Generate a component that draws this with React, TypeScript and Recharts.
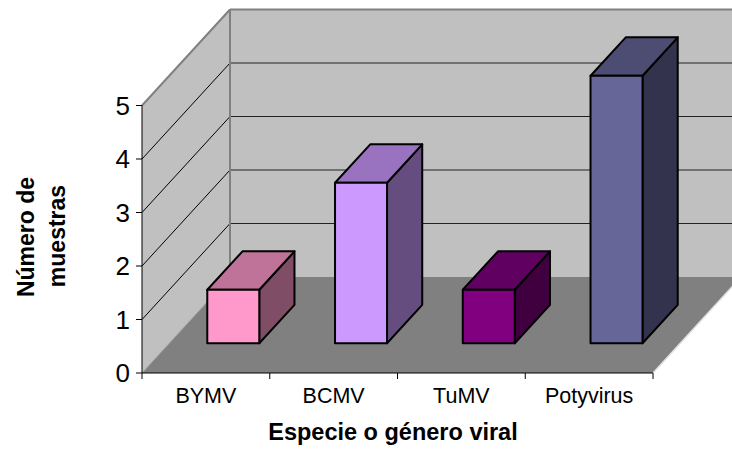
import React from 'react';
import { BarChart, Bar, XAxis, YAxis, ReferenceArea, Label } from 'recharts';

// ── Data ──────────────────────────────────────────────────────────────────────
const categories = ['BYMV', 'BCMV', 'TuMV', 'Potyvirus'];
const sampleCounts = [1, 3, 1, 5];
const yTicks = [0, 1, 2, 3, 4, 5];

const data = categories.map((name, i) => ({ name, muestras: sampleCounts[i] }));

// ── Style ─────────────────────────────────────────────────────────────────────
const FRONT = ['#ff99cc', '#cc99ff', '#800080', '#666699'];
const TOP = ['#bf7399', '#9973bf', '#600060', '#4d4d73'];
const SIDE = ['#804d66', '#664d80', '#400040', '#33334d'];

const DEPTH_X = 88; // 3D depth of the plot box
const DEPTH_Y = 96;
const FONT = 'Arial, "Liberation Sans", sans-serif';

// ── Walls + floor of the 3D box, drawn from the plot rectangle ────────────────
const Walls = ({ x, y, width, height }: any) => {
  const bottom = y + height;
  const right = x + width;
  const bx = x + DEPTH_X;
  const brx = right + DEPTH_X;
  const top = y - DEPTH_Y;
  const fb = bottom - DEPTH_Y;
  const maxV = yTicks[yTicks.length - 1];
  const at = (v: number) => bottom - (height * v) / maxV;
  const n = categories.length;

  return (
    <g>
      <polygon points={`${bx},${fb} ${brx},${fb} ${brx},${top} ${bx},${top}`} fill="#c0c0c0" />
      <polygon points={`${x},${bottom} ${bx},${fb} ${bx},${top} ${x},${y}`} fill="#c0c0c0" />
      <polygon points={`${x},${bottom} ${right},${bottom} ${brx},${fb} ${bx},${fb}`} fill="#808080" />

      {yTicks.slice(1, -1).map((v) => (
        <g key={v}>
          <line x1={x} y1={at(v)} x2={bx} y2={at(v) - DEPTH_Y} stroke="#000" strokeWidth={1} />
          <line x1={bx} y1={at(v) - DEPTH_Y} x2={brx} y2={at(v) - DEPTH_Y} stroke="#222" strokeWidth={1} />
        </g>
      ))}

      {/* box edges */}
      <line x1={x} y1={y} x2={bx} y2={top} stroke="#808080" strokeWidth={2} />
      <line x1={bx} y1={top} x2={brx} y2={top} stroke="#808080" strokeWidth={2} />
      <line x1={bx} y1={top} x2={bx} y2={fb} stroke="#808080" strokeWidth={2} />
      <line x1={x} y1={bottom} x2={bx} y2={fb} stroke="#a0a0a0" strokeWidth={1} />
      <line x1={right} y1={bottom} x2={brx} y2={fb} stroke="#e0e0e0" strokeWidth={1.5} />

      {/* category boundary ticks */}
      {Array.from({ length: n + 1 }, (_, i) => (
        <line
          key={i}
          x1={x + (width * i) / n}
          y1={bottom}
          x2={x + (width * i) / n}
          y2={bottom + 6}
          stroke="#000"
        />
      ))}
    </g>
  );
};

// ── 3D prism bar ──────────────────────────────────────────────────────────────
const Bar3D = ({ x, y, width, height, index }: any) => {
  const x0 = x + 0.31 * DEPTH_X;
  const y0 = y - 0.31 * DEPTH_Y;
  const dx = 0.4 * DEPTH_X;
  const dy = 0.4 * DEPTH_Y;
  const x1 = x0 + width;
  const y1 = y0 + height;
  return (
    <g stroke="#000" strokeWidth={2} strokeLinejoin="round">
      <polygon points={`${x1},${y0} ${x1 + dx},${y0 - dy} ${x1 + dx},${y1 - dy} ${x1},${y1}`} fill={SIDE[index]} />
      <polygon points={`${x0},${y0} ${x0 + dx},${y0 - dy} ${x1 + dx},${y0 - dy} ${x1},${y0}`} fill={TOP[index]} />
      <rect x={x0} y={y0} width={width} height={height} fill={FRONT[index]} />
    </g>
  );
};

const XTitle = () => (
  <text x={393} y={440} textAnchor="middle" fontFamily={FONT} fontSize={23.5} fontWeight="bold" fill="#000">
    Especie o género viral
  </text>
);

const YTitle = () => (
  <g fontFamily={FONT} fontSize={23} fontWeight="bold" fill="#000" textAnchor="middle">
    <text x={34} y={237} transform="rotate(-90, 34, 237)">Número de</text>
    <text x={65} y={236} transform="rotate(-90, 65, 236)">muestras</text>
  </g>
);

export default function App() {
  return (
    <div style={{ width: 732, height: 453, background: '#fff' }}>
      <style>{'body{margin:0}'}</style>
      <BarChart
        width={732}
        height={453}
        data={data}
        margin={{ top: 105.5, right: 79, bottom: 0, left: 0 }}
      >
        <XAxis
          dataKey="name"
          height={80}
          interval={0}
          axisLine={{ stroke: '#000', strokeWidth: 1 }}
          tickLine={false}
          tickSize={6}
          tickMargin={9}
          tick={{ fill: '#000', fontSize: 21.5, fontFamily: FONT }}
        >
          <Label content={XTitle} />
        </XAxis>
        <YAxis
          domain={[0, 5]}
          ticks={yTicks}
          width={142}
          axisLine={{ stroke: '#000', strokeWidth: 1 }}
          tickLine={{ stroke: '#000' }}
          tickSize={6}
          tickMargin={6}
          tick={{ fill: '#000', fontSize: 26, fontFamily: FONT }}
        >
          <Label content={YTitle} />
        </YAxis>
        <ReferenceArea y1={0} y2={5} ifOverflow="visible" shape={Walls} />
        <Bar dataKey="muestras" barSize={52} shape={Bar3D} isAnimationActive={false} />
      </BarChart>
    </div>
  );
}
